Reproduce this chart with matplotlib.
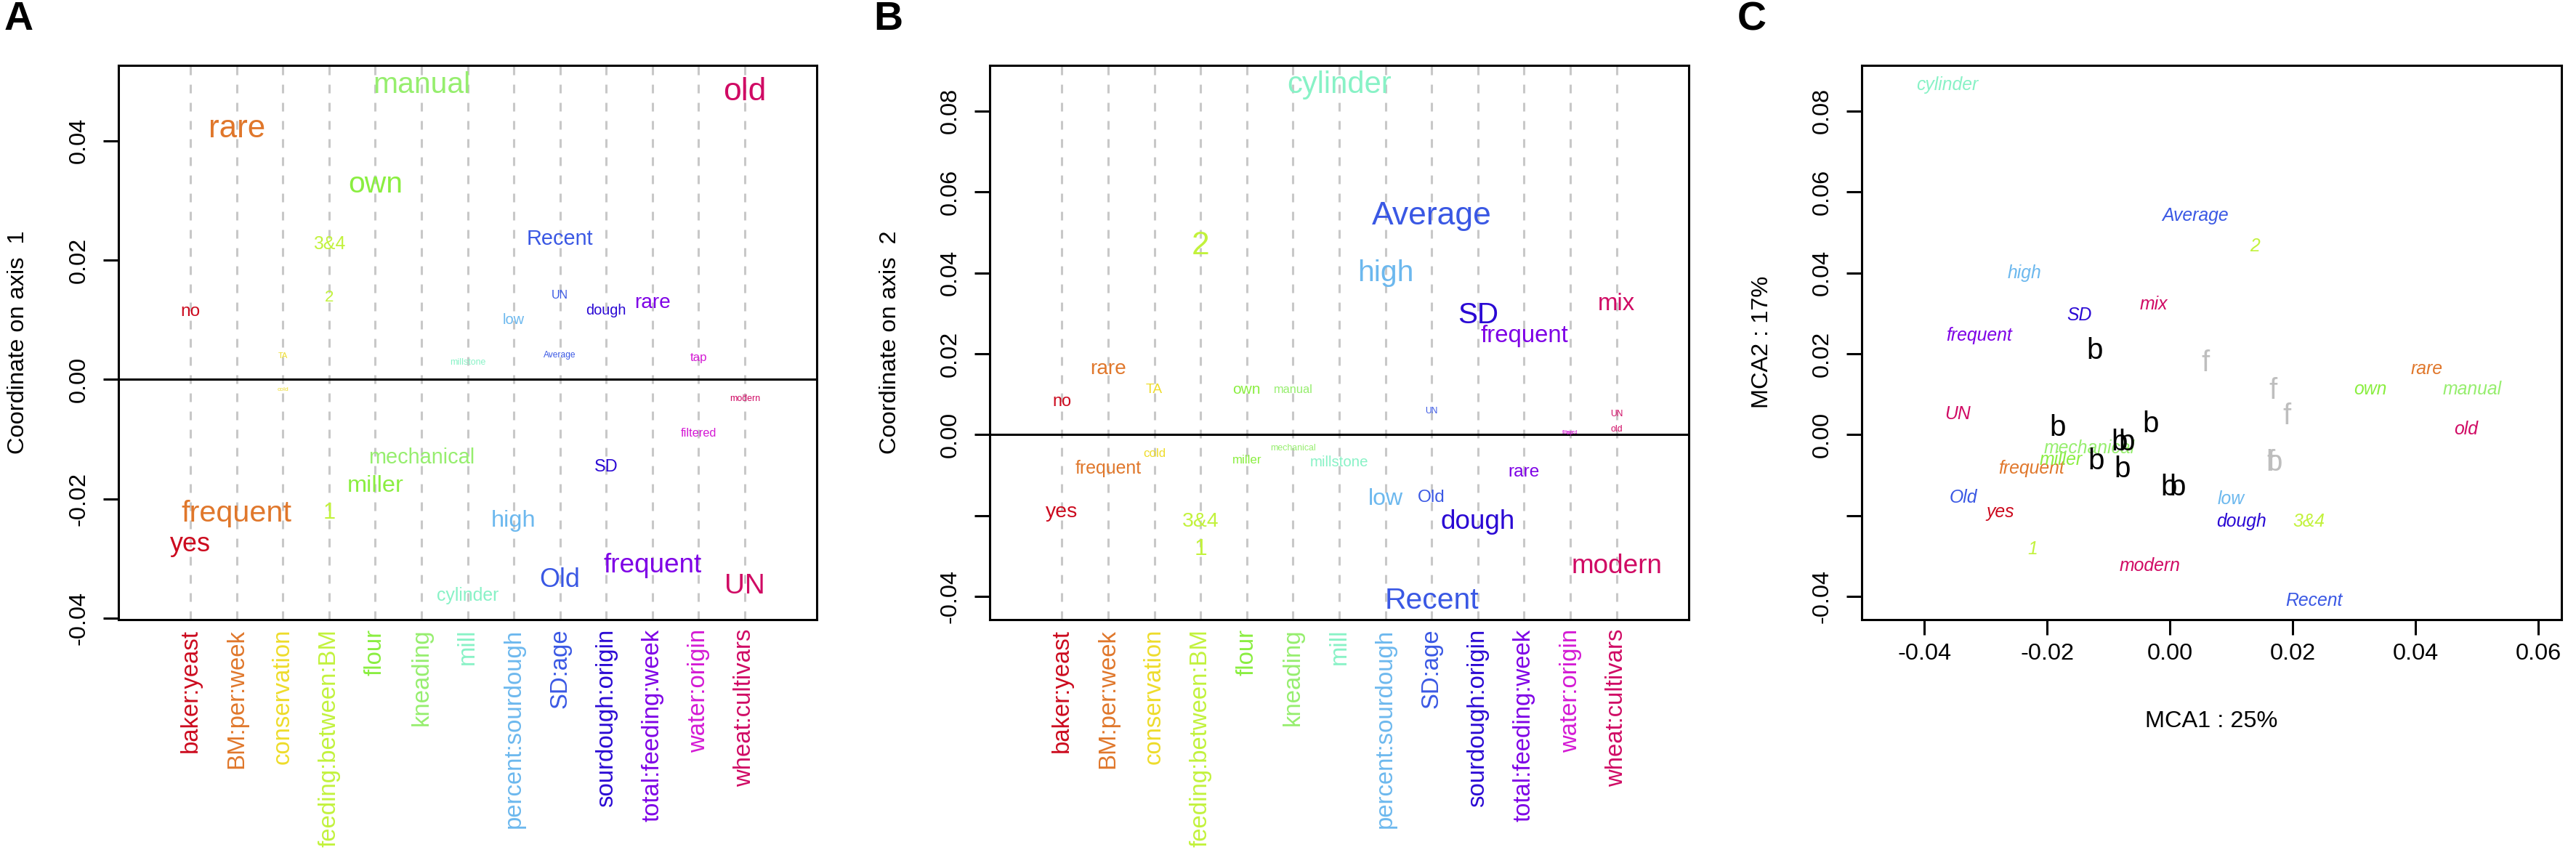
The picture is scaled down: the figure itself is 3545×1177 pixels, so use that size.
import matplotlib
matplotlib.use("Agg")
import matplotlib.pyplot as plt

plt.rcParams["font.family"] = ["Liberation Sans", "DejaVu Sans"]
plt.rcParams["axes.unicode_minus"] = False
plt.rcParams["lines.scale_dashes"] = False

# ===============================
# 1. Data
# ===============================
variables = [
    "baker:yeast", "BM:per:week", "conservation", "feeding:between:BM",
    "flour", "kneading", "mill", "percent:sourdough", "SD:age",
    "sourdough:origin", "total:feeding:week", "water:origin", "wheat:cultivars",
]
var_colors = [
    "#CC0A1E", "#E0772B", "#EEDC2A", "#C2F23C", "#8AEE40", "#96EE6E",
    "#88F2C6", "#6CB8EE", "#3A58E4", "#2A08D4", "#7E00E6", "#D41AD4", "#D00A64",
]

# category -> variable index
cat_var = [0, 0, 1, 1, 2, 2, 3, 3, 3, 4, 4, 5, 5, 6, 6, 7, 7,
           8, 8, 8, 8, 9, 9, 10, 10, 11, 11, 12, 12, 12, 12]
cat_label = ["no", "yes", "rare", "frequent", "TA", "cold", "3&4", "2", "1",
             "own", "miller", "manual", "mechanical", "millstone", "cylinder",
             "low", "high", "Recent", "UN", "Average", "Old", "dough", "SD",
             "rare", "frequent", "tap", "filtered", "old", "modern", "UN", "mix"]
# coordinates on MCA axis 1 and 2
cat_dim1 = [0.0114, -0.0276, 0.0419, -0.0225, 0.0039, -0.0017, 0.0227, 0.0138,
            -0.0223, 0.0327, -0.0178, 0.0493, -0.0131, 0.0028, -0.0362,
            0.0100, -0.0237, 0.0235, 0.0141, 0.0041, -0.0336, 0.0116, -0.0147,
            0.0128, -0.0311, 0.0037, -0.0090, 0.0482, -0.0032, -0.0346, -0.0026]
cat_dim2 = [0.0082, -0.0192, 0.0162, -0.0084, 0.0112, -0.0046, -0.0215, 0.0466,
            -0.0283, 0.0112, -0.0062, 0.0112, -0.0034, -0.0068, 0.0864,
            -0.0159, 0.0400, -0.0410, 0.0058, 0.0541, -0.0156, -0.0215, 0.0296,
            -0.0093, 0.0245, 0.0003, 0.0006, 0.0014, -0.0325, 0.0051, 0.0323]
# relative quality of representation on each axis (drives label size)
cat_qual1 = [0.55, 0.81, 0.99, 0.93, 0.25, 0.19, 0.56, 0.50, 0.69, 0.92, 0.73,
             0.92, 0.65, 0.28, 0.56, 0.45, 0.73, 0.65, 0.36, 0.27, 0.81, 0.45,
             0.53, 0.63, 0.83, 0.38, 0.37, 1.00, 0.28, 0.87, 0.10]
cat_qual2 = [0.53, 0.64, 0.63, 0.56, 0.43, 0.38, 0.64, 1.00, 0.72, 0.47, 0.38,
             0.37, 0.28, 0.46, 0.94, 0.72, 0.92, 0.92, 0.27, 1.00, 0.55, 0.83,
             0.91, 0.55, 0.74, 0.16, 0.16, 0.28, 0.83, 0.27, 0.74]
# categories shown on the factor map
cat_in_map = [False, True, True, True, False, False, True, True, True, True,
              True, True, True, False, True, True, True, True, False, True,
              True, True, True, False, True, False, False, True, True, True, True]

# individuals on the factor map
ind_label = ["b", "b", "b", "b", "b", "b", "b", "b", "b", "f", "f", "f", "f", "b"]
ind_group = ["black"] * 9 + ["grey"] * 5
ind_x = [-0.0123, -0.0183, -0.0082, -0.0070, -0.0120, -0.0078, -0.0031,
         -0.0002, 0.0012, 0.0058, 0.0168, 0.0190, 0.0165, 0.0170]
ind_y = [0.0207, 0.0017, -0.0019, -0.0019, -0.0066, -0.0085, 0.0026,
         -0.0130, -0.0130, 0.0177, 0.0109, 0.0046, -0.0069, -0.0069]
group_colors = {"black": "black", "grey": "#BEBEBE"}

W, H = 3545, 1177
TICK_FS = 23.4
MAX_FS = 32


def box(x0, x1, y0=90, y1=853):
    return [x0 / W, 1 - y1 / H, (x1 - x0) / W, (y1 - y0) / H]


def style_axes(ax):
    for s in ax.spines.values():
        s.set_linewidth(2.2)
    ax.tick_params(axis="y", length=15, width=2.2, pad=13.5, labelsize=TICK_FS)


def set_yaxis(ax, ticks, hidden=()):
    ax.set_yticks(ticks)
    labels = ["" if t in hidden else "%.2f" % t for t in ticks]
    ax.set_yticklabels(labels, rotation=90, va="center")


# ===============================
# 2. Strip panels (A and B)
# ===============================
def strip_panel(ax, coords, quality, ylim):
    ax.set_xlim(-0.56, 14.56)
    ax.set_ylim(*ylim)
    for i in range(len(variables)):
        ax.axvline(i + 1, color="#C8C8C8", lw=2.2, dashes=(8.6, 9.4), zorder=1)
    ax.axhline(0, color="black", lw=2.2, zorder=2)
    for v, lab, c, q in zip(cat_var, cat_label, coords, quality):
        ax.text(v + 1, c, lab, color=var_colors[v], fontsize=MAX_FS * q,
                ha="center", va="center", zorder=3)
    ax.set_xticks(range(1, len(variables) + 1))
    ax.set_xticklabels(variables, rotation=90, fontsize=23.7, va="top")
    ax.tick_params(axis="x", length=0, pad=9)
    for tl, c in zip(ax.get_xticklabels(), var_colors):
        tl.set_color(c)
    style_axes(ax)


fig = plt.figure(figsize=(W / 100, H / 100), dpi=100)

axA = fig.add_axes(box(163, 1124))
strip_panel(axA, cat_dim1, cat_qual1, (-0.0402, 0.0526))
set_yaxis(axA, [-0.04, -0.02, 0.0, 0.02, 0.04])

axB = fig.add_axes(box(1362, 2324))
strip_panel(axB, cat_dim2, cat_qual2, (-0.0457, 0.0913))
set_yaxis(axB, [-0.04, -0.02, 0.0, 0.02, 0.04, 0.06, 0.08], hidden=(-0.02,))

# ===============================
# 3. Factor map (C)
# ===============================
axC = fig.add_axes(box(2562, 3525))
axC.set_xlim(-0.0502, 0.0638)
axC.set_ylim(-0.0457, 0.0913)
for v, lab, x, y, show in zip(cat_var, cat_label, cat_dim1, cat_dim2, cat_in_map):
    if show:
        axC.text(x, y, lab, color=var_colors[v], fontsize=17.8, style="italic",
                 ha="center", va="center")
for lab, g, x, y in zip(ind_label, ind_group, ind_x, ind_y):
    axC.text(x, y, lab, color=group_colors[g], fontsize=29, ha="center", va="center")
xt = [-0.04, -0.02, 0.0, 0.02, 0.04, 0.06]
axC.set_xticks(xt)
axC.set_xticklabels(["%.2f" % t for t in xt])
axC.tick_params(axis="x", length=15, width=2.2, pad=8, labelsize=TICK_FS)
style_axes(axC)
set_yaxis(axC, [-0.04, -0.02, 0.0, 0.02, 0.04, 0.06, 0.08], hidden=(-0.02,))

# ===============================
# 4. Labels
# ===============================
fig.text(25 / W, 1 - 471 / H, "Coordinate on axis  1", rotation=90,
         fontsize=TICK_FS, ha="center", va="center")
fig.text(1225 / W, 1 - 471 / H, "Coordinate on axis  2", rotation=90,
         fontsize=TICK_FS, ha="center", va="center")
fig.text(2425 / W, 1 - 471 / H, "MCA2 : 17%", rotation=90,
         fontsize=TICK_FS, ha="center", va="center")
fig.text(3043 / W, 1 - 993 / H, "MCA1 : 25%", fontsize=TICK_FS,
         ha="center", va="center")

for letter, x in [("A", 26), ("B", 1222), ("C", 2411)]:
    fig.text(x / W, 1 - 27 / H, letter, fontsize=40, fontweight="bold",
             ha="center", va="center")

fig.savefig("out.png", dpi=100)
